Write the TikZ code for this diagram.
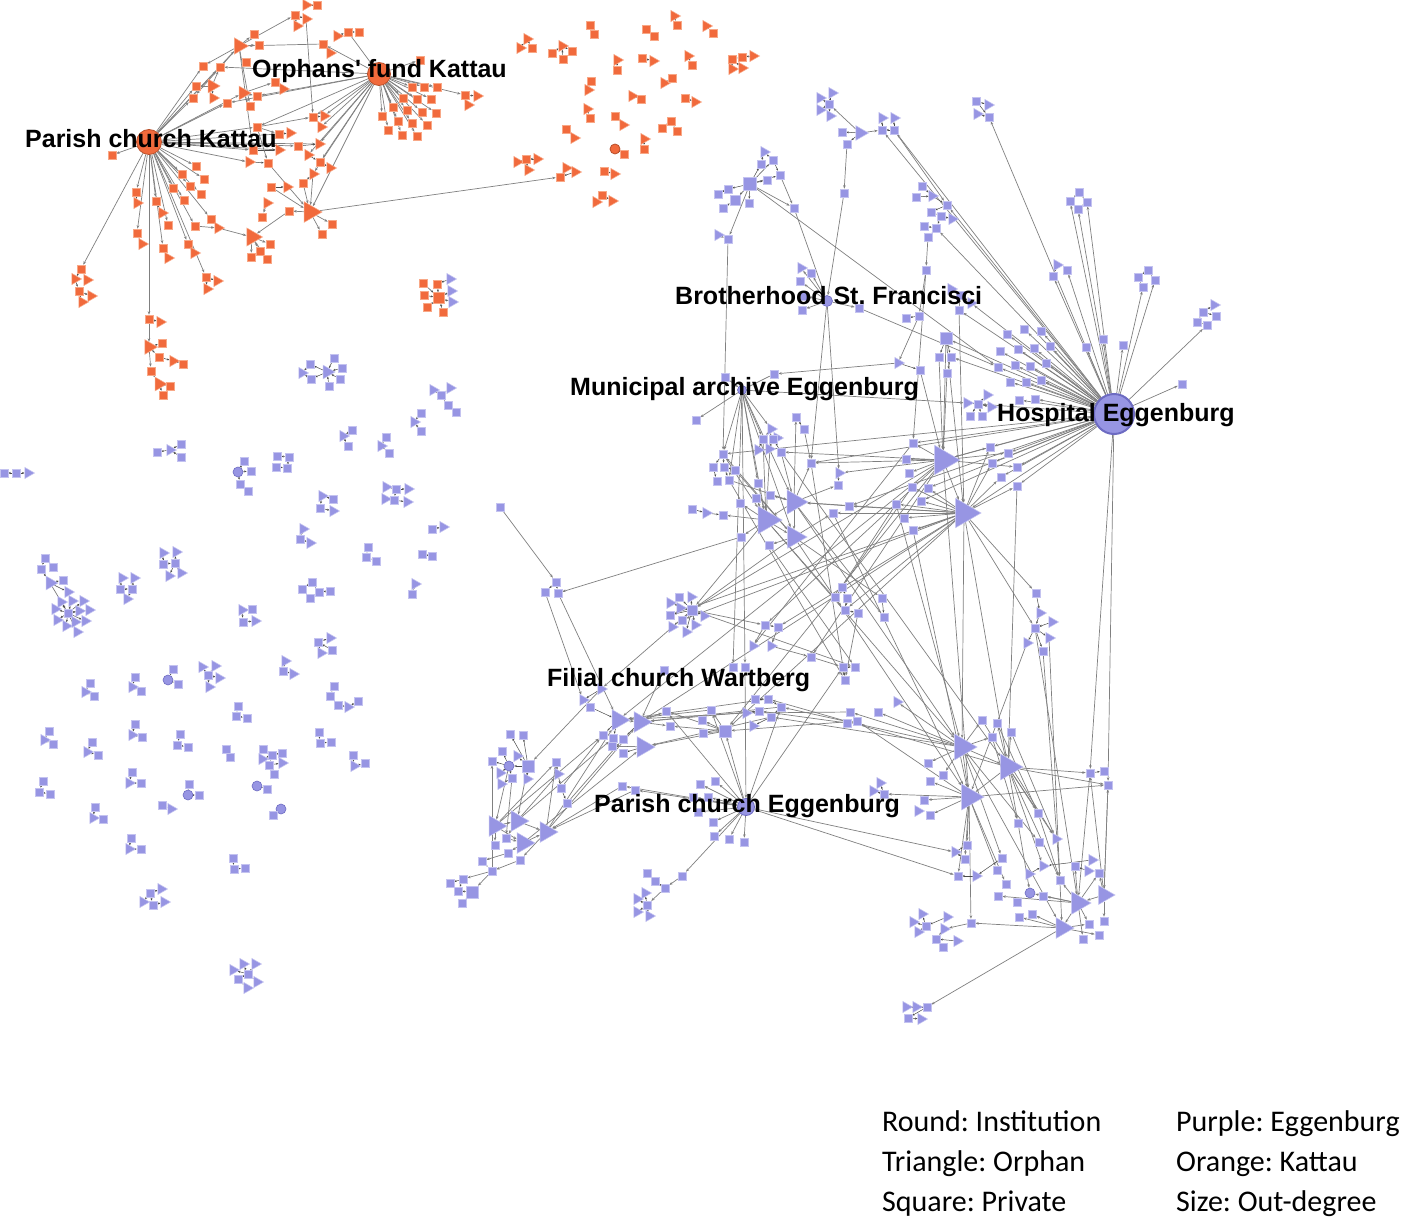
\documentclass[tikz,border=0pt]{standalone}
\usepackage{fontspec}
\setmainfont{Liberation Sans}
\newfontfamily\legendfont{Carlito}
\usetikzlibrary{shapes.geometric,arrows.meta}
\frenchspacing
\definecolor{pf}{HTML}{9795E3}
\definecolor{pl}{HTML}{C4C3F0}
\definecolor{pd}{HTML}{6D6BC2}
\definecolor{of}{HTML}{F16A3C}
\definecolor{ol}{HTML}{F8A887}
\definecolor{od}{HTML}{B8502B}
\definecolor{ec}{HTML}{808080}
\definecolor{esc}{HTML}{4A4A4A}
\pgfdeclarelayer{back}
\pgfdeclarelayer{bg}
\pgfsetlayers{back,bg,main}
\tikzset{
 ps/.style={rectangle,minimum size=8pt,inner sep=0pt,fill=pf,draw=pl,line width=0.5pt},
 pq/.style={ps,minimum size=12pt},
 pt/.style={regular polygon,regular polygon sides=3,shape border rotate=-90,minimum size=13pt,inner sep=0pt,fill=pf,draw=pl,line width=0.5pt},
 pc/.style={circle,minimum size=10pt,inner sep=0pt,fill=pf,draw=pd,line width=0.6pt},
 os/.style={ps,fill=of,draw=ol},
 ot/.style={pt,fill=of,draw=ol},
 oc/.style={circle,inner sep=0pt,fill=of,draw=od,line width=0.8pt},
 ed/.style={draw=ec,line width=0.7pt,-{Stealth[length=3.5pt,width=2.6pt]}},
 es/.style={draw=esc,line width=0.5pt,-{Stealth[length=2.5pt,width=2pt]}},
 lab/.style={font=\fontsize{25}{29}\selectfont\bfseries,inner sep=0pt,anchor=base west,text=black},
 leg/.style={font=\legendfont\fontsize{30}{36}\selectfont,inner sep=0pt,anchor=base west,text=black},
}
\newcommand\NOs[3]{\node[os] (#1) at (#2,#3) {};}
\newcommand\NOt[4][13]{\node[ot,minimum size=#1pt] (#2) at (#3,#4) {};}
\newcommand\NPs[3]{\node[ps] (#1) at (#2,#3) {};}
\newcommand\NPq[4][12]{\node[pq,minimum size=#1pt] (#2) at (#3,#4) {};}
\newcommand\NPt[4][13]{\node[pt,minimum size=#1pt] (#2) at (#3,#4) {};}
\newcommand\NPc[3]{\node[pc] (#1) at (#2,#3) {};}
\newcommand\Ed[2]{\draw[ed] (#1) -- (#2);}
\newcommand\Es[2]{\draw[es] (#1) -- (#2);}
\begin{document}
\begin{tikzpicture}[x=1pt,y=-1pt]
\useasboundingbox (0,0) rectangle (1401,1217);
\begin{pgfonlayer}{back}
\fill[white] (0,0) rectangle (1401,1217);
\end{pgfonlayer}
% ================= ORANGE (Kattau) =================
\node[oc,minimum size=25pt] (PCK) at (149,142) {};
\node[oc,minimum size=23pt] (OFK) at (379,74) {};
\NOt{o1}{306}{5} \NOs{o2}{317}{5}
\NOs{o3}{295}{15} \NOt{o4}{306}{19} \NOt{o5}{297}{26}
\NOs{o6}{254}{34} \NOt[19]{o7}{239}{46} \NOs{o8}{259}{45}
\NOt{o9}{337}{36} \NOs{o10}{348}{32} \NOs{o11}{359}{32}
\NOs{o12}{323}{44} \NOt{o13}{330}{53}
\NOs{o14}{203}{66} \NOs{o15}{220}{67} \NOs{o16}{246}{62}
\NOs{o17}{196}{86} \NOt[16]{o18}{212}{86} \NOs{o19}{193}{98} \NOt{o20}{213}{98}
\NOt[16]{o21}{243}{93} \NOs{o22}{257}{96} \NOs{o23}{227}{103} \NOs{o24}{250}{106}
\NOs{o25}{275}{82} \NOt{o26}{283}{89}
\NOs{o27}{420}{60} \NOs{o28}{412}{87} \NOs{o29}{424}{87} \NOs{o30}{437}{87}
\NOs{o31}{403}{98} \NOs{o32}{417}{99} \NOs{o33}{431}{99}
\NOs{o34}{393}{107} \NOs{o35}{407}{110} \NOs{o36}{422}{112} \NOs{o37}{436}{113}
\NOs{o38}{382}{116} \NOs{o39}{398}{121} \NOs{o40}{412}{123} \NOs{o41}{427}{125}
\NOs{o42}{388}{130} \NOs{o43}{402}{135} \NOs{o44}{417}{136}
\NOs{o45}{465}{95} \NOt{o46}{477}{96} \NOt{o47}{468}{105}
\NOs{o48}{313}{117} \NOt{o49}{324}{116} \NOs{o50}{257}{127} \NOt{o51}{321}{127}
\NOs{o52}{279}{134} \NOt{o53}{290}{133} \NOs{o54}{298}{146} \NOt{o55}{319}{144}
\NOs{o56}{253}{150} \NOt{o57}{279}{150} \NOt{o58}{308}{155} \NOs{o59}{320}{162}
\NOt{o60}{330}{168} \NOt{o61}{249}{162} \NOs{o62}{268}{163} \NOs{o63}{303}{183}
\NOt{o64}{313}{174} \NOs{o65}{271}{187} \NOt{o66}{287}{187} \NOt{o67}{267}{203}
\NOt[24]{o68}{310}{212} \NOs{o69}{289}{211} \NOs{o70}{332}{224} \NOs{o71}{322}{234}
\NOs{o72}{262}{217} \NOt[21]{o73}{252}{237} \NOs{o74}{270}{244} \NOs{o75}{260}{251}
\NOs{o76}{251}{257} \NOs{o77}{267}{259}
\NOs{o78}{112}{155} \NOs{o79}{196}{166} \NOs{o80}{204}{179} \NOs{o81}{182}{174}
\NOs{o82}{173}{188} \NOs{o83}{190}{186} \NOs{o84}{201}{194} \NOs{o85}{184}{200}
\NOs{o86}{136}{192} \NOt{o87}{137}{203} \NOs{o88}{156}{201} \NOt{o89}{162}{213}
\NOs{o90}{168}{225} \NOs{o91}{195}{226} \NOs{o92}{211}{219} \NOt{o93}{218}{228}
\NOs{o94}{137}{233} \NOt{o95}{142}{244} \NOs{o96}{163}{248} \NOt{o97}{168}{258}
\NOs{o98}{188}{244} \NOt{o99}{194}{253} \NOs{o100}{206}{277} \NOt{o101}{217}{281} \NOt{o102}{207}{289}
\NOs{o103}{81}{269} \NOt{o104}{75}{279} \NOt{o105}{87}{280} \NOs{o106}{79}{291} \NOt{o107}{91}{296} \NOt{o108}{82}{302}
\NOs{o109}{149}{319} \NOt{o110}{160}{322} \NOt[17]{o111}{149}{347} \NOs{o112}{162}{343}
\NOs{o113}{159}{357} \NOt{o114}{173}{361} \NOs{o115}{183}{364} \NOs{o116}{151}{371}
\NOt[16]{o117}{159}{384} \NOs{o118}{170}{386} \NOs{o119}{163}{395}
\NOs{o120}{423}{283} \NOs{o121}{437}{284} \NOs{o122}{424}{295} \node[os,minimum size=11pt] (o123) at (439,298) {};
\NOs{o124}{427}{307} \NOs{o125}{443}{312}
\NPt{q1}{450}{279} \NPt{q2}{451}{291} \NPt{q3}{452}{302}
% orange pairs
\NOt{a1}{527}{39} \NOt{a2}{520}{48} \NOs{a3}{532}{48}
\NOs{a4}{552}{53} \NOt{a5}{562}{46} \NOs{a6}{572}{51} \NOs{a7}{563}{59}
\NOs{a8}{590}{25} \NOs{a9}{594}{34}
\NOs{a10}{646}{29} \NOs{a11}{654}{36}
\NOt{a12}{674}{16} \NOs{a13}{677}{25}
\NOt{a14}{706}{26} \NOs{a15}{713}{33}
\NOt{a16}{617}{60} \NOs{a17}{617}{70}
\NOs{a18}{642}{58} \NOt{a19}{653}{61}
\NOt{a20}{688}{56} \NOs{a21}{692}{65}
\NOs{a22}{732}{59} \NOs{a23}{742}{57} \NOt{a24}{753}{56} \NOt{a25}{732}{69} \NOt{a26}{742}{68}
\NOs{a27}{591}{81} \NOt{a28}{588}{90}
\NOt{a29}{664}{83} \NOs{a30}{672}{78}
\NOt{a31}{632}{96} \NOs{a32}{641}{99}
\NOs{a33}{685}{98} \NOt{a34}{695}{102}
\NOt{a35}{587}{109} \NOs{a36}{590}{118}
\NOs{a37}{615}{116} \NOt{a38}{623}{125}
\NOs{a39}{662}{128} \NOs{a40}{671}{121} \NOs{a41}{677}{131}
\NOs{a42}{566}{129} \NOt{a43}{574}{138}
\NOt{a44}{644}{139} \NOs{a45}{644}{149}
\node[oc,minimum size=10pt] (a46) at (615,149) {}; \NOs{a47}{624}{154}
\NOt{a48}{517}{162} \NOs{a49}{526}{159} \NOt{a50}{537}{159} \NOt{a51}{528}{170}
\NOs{a52}{560}{177} \NOt{a53}{566}{168} \NOt{a54}{575}{172}
\NOs{a55}{604}{171} \NOt{a56}{614}{174}
\NOt{a57}{596}{202} \NOs{a58}{602}{195} \NOt{a59}{612}{201}
% ================= PURPLE scattered groups =================
\NPt{l1}{302}{373} \NPs{l2}{310}{364} \NPs{l3}{311}{379} \NPt[16]{l4}{327}{372} \NPs{l5}{334}{358} \NPs{l6}{342}{368} \NPs{l7}{340}{379} \NPs{l8}{329}{386}
\NPt{l9}{433}{390} \NPt{l10}{450}{388} \NPs{l11}{441}{395} \NPs{l12}{448}{405} \NPs{l13}{456}{412}
\NPs{l14}{421}{413} \NPt{l15}{414}{422} \NPs{l16}{421}{431}
\NPt{l17}{343}{436} \NPs{l18}{352}{430} \NPs{l19}{348}{446}
\NPs{l20}{386}{437} \NPt{l21}{381}{446} \NPs{l22}{389}{453}
\NPs{l23}{157}{452} \NPt{l24}{170}{450} \NPs{l25}{181}{444} \NPs{l26}{181}{457}
\NPs{l27}{4}{473} \NPs{l28}{16}{473} \NPt{l29}{28}{473}
\NPs{l30}{244}{461} \NPc{l31}{238}{472} \NPs{l32}{251}{471} \NPs{l33}{240}{484} \NPs{l34}{248}{491}
\NPs{l35}{277}{456} \NPs{l36}{289}{457} \NPs{l37}{276}{467} \NPs{l38}{287}{468}
\NPt{l39}{322}{496} \NPs{l40}{333}{499} \NPs{l41}{320}{508} \NPt{l42}{333}{511}
\NPt{l43}{386}{487} \NPs{l44}{396}{489} \NPt{l45}{408}{489} \NPt{l46}{385}{499} \NPs{l47}{394}{500} \NPt{l48}{407}{502}
\NPt{l49}{303}{529} \NPs{l50}{300}{539} \NPt{l51}{310}{543}
\NPs{l52}{432}{529} \NPt{l53}{443}{527}
\NPs{l54}{368}{547} \NPs{l55}{366}{557} \NPs{l56}{376}{561}
\NPs{l57}{422}{554} \NPs{l58}{432}{556}
\NPt{l59}{415}{584} \NPs{l60}{412}{594}
\NPs{l61}{312}{582} \NPs{l62}{302}{589} \NPs{l63}{319}{592} \NPs{l64}{330}{591} \NPs{l65}{310}{598}
\NPt{l66}{242}{610} \NPs{l67}{252}{609} \NPs{l68}{243}{622} \NPt{l69}{255}{621}
\NPs{l70}{318}{642} \NPt{l71}{330}{638} \NPs{l72}{332}{650} \NPt{l73}{321}{653}
\NPs{l74}{45}{558} \NPs{l75}{41}{569} \NPs{l76}{53}{567} \NPt[16]{l77}{50}{583} \NPs{l78}{63}{580}
\NPt{l79}{68}{592} \NPt{l80}{61}{602} \NPt{l81}{72}{601} \NPt{l82}{83}{601} \NPt{l83}{55}{609}
\NPs{l84}{68}{613} \NPt{l85}{79}{611} \NPt{l86}{89}{610} \NPt{l87}{57}{620} \NPt{l88}{66}{626}
\NPt{l89}{75}{622} \NPt{l90}{85}{621} \NPt{l91}{77}{632}
\NPt{l92}{122}{578} \NPt{l93}{134}{578} \NPs{l94}{120}{589} \NPs{l95}{132}{589} \NPt{l96}{127}{599}
\NPt{l97}{163}{553} \NPt{l98}{176}{552} \NPs{l99}{163}{564} \NPs{l100}{175}{563} \NPt{l101}{169}{576} \NPt{l102}{181}{573}
\NPs{m1}{90}{683} \NPt{m2}{85}{692} \NPs{m3}{94}{696}
\NPs{m4}{135}{677} \NPt{m5}{132}{687} \NPs{m6}{141}{691}
\NPs{m7}{173}{669} \NPc{m8}{168}{680} \NPs{m9}{178}{684}
\NPt{m10}{202}{667} \NPt{m11}{215}{666} \NPs{m12}{208}{675} \NPt{m13}{219}{678} \NPt{m14}{209}{687}
\NPt{m15}{285}{661} \NPs{m16}{283}{671} \NPt{m17}{293}{674}
\NPs{m18}{334}{686} \NPs{m19}{330}{696} \NPs{m20}{338}{705} \NPt{m21}{348}{707} \NPs{m22}{358}{701}
\NPs{m23}{238}{706} \NPs{m24}{236}{716} \NPs{m25}{247}{718}
\NPs{m26}{49}{731} \NPt{m27}{44}{740} \NPs{m28}{53}{744}
\NPs{m29}{92}{742} \NPt{m30}{87}{752} \NPs{m31}{98}{755}
\NPs{m32}{135}{724} \NPt{m33}{132}{735} \NPs{m34}{142}{737}
\NPs{m35}{180}{734} \NPs{m36}{177}{745} \NPs{m37}{188}{747}
\NPs{m38}{226}{749} \NPs{m39}{230}{757}
\NPs{m40}{263}{749} \NPs{m41}{272}{755} \NPs{m42}{282}{753} \NPt{m43}{262}{759} \NPs{m44}{269}{765} \NPt{m45}{282}{763} \NPs{m46}{274}{774}
\NPs{m47}{319}{732} \NPs{m48}{320}{743} \NPs{m49}{331}{742}
\NPs{m50}{353}{755} \NPt{m51}{354}{766} \NPs{m52}{365}{763}
\NPs{m53}{43}{781} \NPs{m54}{39}{792} \NPs{m55}{50}{794}
\NPs{m56}{132}{772} \NPt{m57}{129}{783} \NPs{m58}{141}{783}
\NPs{m59}{189}{784} \NPc{m60}{188}{795} \NPs{m61}{199}{795}
\NPs{m62}{162}{805} \NPt{m63}{171}{809}
\NPc{m64}{257}{786} \NPs{m65}{267}{789}
\NPc{m66}{281}{809} \NPs{m67}{273}{815}
\NPs{m68}{95}{807} \NPt{m69}{93}{818} \NPs{m70}{103}{819}
\NPs{m71}{131}{838} \NPt{m72}{129}{849} \NPs{m73}{141}{849}
\NPs{m74}{233}{858} \NPs{m75}{234}{869} \NPs{m76}{245}{868}
\NPt{m77}{161}{889} \NPs{m78}{150}{893} \NPt{m79}{143}{902} \NPs{m80}{153}{905} \NPt{m81}{164}{902}
\NPt{m82}{233}{970} \NPt{m83}{243}{964} \NPt{m84}{255}{964} \NPs{m85}{248}{974} \NPs{m86}{238}{979} \NPt{m87}{257}{982} \NPt{m88}{247}{988}
% ================= PURPLE main component =================
\node[pc,minimum size=40pt,line width=2pt] (H) at (1114,414) {};
\node[pc,minimum size=11pt] (B) at (827,301) {};
\node[pc,minimum size=17pt,line width=0.8pt] (PCE) at (746,807) {};
\node[pc,minimum size=9pt] (M) at (742,390) {};
\NPt{p1}{820}{98} \NPt{p2}{832}{93} \NPs{p3}{829}{104} \NPt{p4}{820}{110} \NPt{p5}{830}{116}
\NPs{p6}{842}{132} \NPt[17]{p7}{860}{133} \NPs{p8}{847}{144}
\NPt{p9}{882}{118} \NPt{p10}{894}{118} \NPs{p11}{882}{130} \NPs{p12}{894}{130}
\NPs{p13}{976}{101} \NPt{p14}{988}{105} \NPt{p15}{977}{114} \NPs{p16}{989}{117}
\NPt{p17}{764}{152} \NPs{p18}{761}{164} \NPs{p19}{773}{160} \NPq[13]{p20}{750}{184} \NPs{p21}{780}{175}
\NPs{p22}{767}{180} \NPs{p23}{728}{189} \NPs{p24}{718}{194} \NPq[10]{p25}{735}{200} \NPs{p26}{723}{208}
\NPs{p27}{749}{203} \NPt{p28}{718}{235} \NPs{p29}{728}{239}
\NPs{p30}{794}{208} \NPs{p31}{844}{193}
\NPs{p32}{922}{186} \NPs{p33}{916}{197} \NPt{p34}{932}{196} \NPs{p35}{947}{205} \NPs{p36}{931}{212}
\NPs{p37}{941}{216} \NPt{p38}{952}{219} \NPs{p39}{924}{226} \NPs{p40}{936}{228} \NPs{p41}{928}{237}
\NPs{p42}{926}{270}
\NPt{p43}{801}{268} \NPs{p44}{811}{273} \NPs{p45}{800}{281} \NPs{p46}{804}{296} \NPs{p47}{802}{310}
\NPs{p48}{859}{308}
\NPt{p49}{951}{289} \NPs{p50}{960}{295} \NPs{p51}{959}{310} \NPt{p52}{971}{303}
\NPs{p53}{919}{316} \NPs{p54}{906}{318}
\NPq{p55}{946}{338} \NPs{p56}{939}{357} \NPs{p57}{951}{357} \NPs{p58}{947}{373}
\NPt{p59}{898}{363} \NPs{p60}{920}{370}
\NPs{p61}{774}{374} \NPs{p62}{725}{377}
\NPs{p63}{1007}{334} \NPs{p64}{1024}{329} \NPs{p65}{1041}{331} \NPs{p66}{1000}{351}
\NPs{p67}{1018}{349} \NPs{p68}{1034}{348} \NPs{p69}{1050}{346} \NPs{p70}{998}{367}
\NPs{p71}{1015}{365} \NPs{p72}{1030}{366} \NPs{p73}{1046}{363} \NPs{p74}{1010}{382}
\NPs{p75}{1026}{382} \NPs{p76}{1041}{380} \NPs{p77}{1019}{400} \NPs{p78}{1035}{399}
\NPt{p79}{967}{403} \NPs{p80}{978}{404} \NPt{p81}{987}{395} \NPt{p82}{991}{407} \NPs{p83}{970}{416} \NPs{p84}{982}{416}
\NPt{p85}{1057}{265} \NPs{p86}{1053}{276} \NPs{p87}{1067}{270}
\NPs{p88}{1079}{192} \NPs{p89}{1070}{201} \NPs{p90}{1087}{202} \NPs{p91}{1078}{209}
\NPs{p92}{1148}{270} \NPs{p93}{1138}{277} \NPs{p94}{1155}{280} \NPs{p95}{1143}{287}
\NPt{p96}{1214}{305} \NPs{p97}{1203}{312} \NPs{p98}{1216}{316} \NPs{p99}{1197}{322} \NPs{p100}{1207}{325}
\NPs{p101}{1103}{339} \NPs{p102}{1086}{347} \NPs{p103}{1123}{345}
\NPs{p104}{1182}{384}
\NPs{p105}{696}{420} \NPs{p106}{796}{417} \NPs{p107}{804}{429}
\NPs{p108}{723}{454} \NPs{p109}{713}{467} \NPs{p110}{724}{467} \NPs{p111}{735}{470} \NPs{p112}{717}{481} \NPs{p113}{729}{480}
\NPt{p114}{771}{429} \NPt{p115}{777}{438} \NPs{p116}{763}{439} \NPs{p117}{773}{439} \NPt{p118}{758}{450} \NPt{p119}{769}{449} \NPs{p120}{781}{452}
\NPs{p121}{811}{463} \NPt{p122}{839}{473} \NPs{p123}{838}{485} \NPs{p124}{758}{483}
\NPt[28]{p125}{794}{502}
\NPs{p126}{770}{495} \NPs{p127}{756}{498} \NPs{p128}{740}{503}
\NPt[32]{p129}{766}{520}
\NPt[26]{p130}{794}{537}
\NPs{p131}{769}{545} \NPs{p132}{741}{537}
\NPs{p133}{692}{509} \NPt{p134}{706}{513} \NPs{p135}{723}{515}
\NPs{p136}{833}{513} \NPs{p137}{849}{506}
\NPs{p138}{913}{443} \NPs{p139}{906}{459} \NPs{p140}{909}{473} \NPs{p141}{912}{487} \NPs{p142}{928}{488}
\NPs{p143}{896}{504} \NPs{p144}{921}{501} \NPs{p145}{904}{518} \NPs{p146}{913}{530}
\NPt[34]{p147}{943}{460}
\NPt[34]{p148}{964}{513}
\NPs{p149}{990}{447} \NPs{p150}{1008}{453} \NPs{p151}{992}{463} \NPs{p152}{1017}{467} \NPs{p153}{1001}{477} \NPs{p154}{1017}{486}
\NPs{p155}{556}{582} \NPs{p156}{545}{592} \NPs{p157}{558}{593}
\NPs{p158}{500}{507}
\NPt{p159}{670}{603} \NPs{p160}{679}{597} \NPt{p161}{691}{597} \NPs{p162}{670}{615} \NPq[10]{p163}{692}{610}
\NPt{p164}{680}{608} \NPs{p165}{682}{620} \NPt{p166}{704}{616} \NPt{p167}{672}{627} \NPt{p168}{686}{632} \NPt{p169}{695}{625}
\NPs{p170}{765}{625} \NPs{p171}{778}{627} \NPt{p172}{753}{646} \NPt{p173}{771}{646} \NPs{p174}{811}{657}
\NPs{p175}{664}{670} \NPs{p176}{733}{667} \NPs{p177}{745}{667}
\NPs{p178}{842}{587} \NPs{p179}{835}{597} \NPs{p180}{847}{598} \NPs{p181}{845}{610} \NPs{p182}{858}{613}
\NPs{p183}{882}{598} \NPs{p184}{884}{617}
\NPs{p185}{843}{667} \NPs{p186}{855}{667} \NPs{p187}{845}{680}
\NPs{p188}{1036}{593} \NPt{p189}{1040}{613} \NPt{p190}{1052}{622} \NPs{p191}{1035}{628} \NPt{p192}{1049}{638} \NPt{p193}{1027}{643} \NPs{p194}{1043}{651}
\NPt{p196}{601}{689} \NPt{p197}{583}{700} \NPs{p198}{590}{707}
\NPt[24]{p199}{618}{720} \NPt[24]{p200}{640}{722} \NPs{p201}{666}{711} \NPs{p202}{670}{726}
\NPs{p203}{603}{735} \NPs{p204}{613}{738} \NPs{p205}{623}{739} \NPs{p206}{612}{746} \NPs{p207}{623}{753} \NPt[24]{p208}{643}{747}
\NPs{p209}{711}{710} \NPs{p210}{702}{720} \NPs{p211}{703}{733} \NPq{p212}{725}{731}
\NPt{p213}{746}{713} \NPs{p214}{759}{711} \NPs{p215}{755}{699} \NPs{p216}{768}{699} \NPs{p217}{781}{707} \NPs{p218}{771}{717} \NPt{p219}{753}{726}
\NPs{p221}{850}{712} \NPs{p222}{847}{723} \NPs{p223}{857}{721}
\NPs{p224}{510}{734} \NPs{p225}{523}{735} \NPs{p226}{502}{751} \NPt{p227}{517}{756} \NPs{p228}{492}{761}
\NPc{p229}{509}{766} \NPq{p230}{528}{766} \NPt{p231}{500}{773} \NPs{p232}{512}{778} \NPt{p233}{527}{779} \NPt{p234}{501}{784}
\NPs{p235}{556}{762} \NPt{p236}{558}{774} \NPs{p237}{561}{788} \NPs{p238}{567}{803}
\NPs{p239}{622}{786} \NPs{p240}{635}{790}
\NPt[24]{p241}{495}{826} \NPt[24]{p242}{517}{821} \NPt[24]{p243}{546}{832} \NPs{p244}{506}{838} \NPt[24]{p245}{523}{843}
\NPs{p246}{495}{845} \NPs{p247}{508}{853} \NPs{p248}{520}{860} \NPs{p249}{482}{861} \NPs{p250}{492}{871}
\NPs{p251}{463}{879} \NPs{p252}{450}{883} \NPs{p253}{458}{891} \NPq{p254}{472}{892} \NPs{p255}{462}{903}
\NPs{p256}{700}{784} \NPs{p257}{715}{781} \NPs{p258}{693}{797} \NPs{p259}{708}{797} \NPs{p260}{698}{812}
\NPs{p261}{713}{822} \NPs{p262}{714}{836} \NPs{p263}{729}{839} \NPs{p264}{744}{842}
\NPs{p265}{682}{876} \NPs{p266}{665}{888} \NPs{p267}{647}{873} \NPs{p268}{655}{881} \NPt{p269}{645}{893}
\NPt{p270}{637}{899} \NPs{p271}{647}{905} \NPt{p272}{637}{912} \NPt{p273}{649}{916}
\NPt{p274}{897}{702} \NPs{p275}{878}{712}
\NPt[30]{p276}{962}{747} \NPt[30]{p277}{1008}{767} \NPt[30]{p278}{969}{797}
\NPs{p279}{982}{720} \NPs{p280}{997}{723} \NPs{p281}{992}{737} \NPs{p282}{1011}{732}
\NPs{p283}{928}{763} \NPs{p284}{943}{775} \NPs{p285}{930}{781} \NPs{p286}{924}{800} \NPt{p287}{918}{811} \NPs{p288}{930}{815}
\NPt{p289}{880}{783} \NPt{p290}{873}{791} \NPs{p291}{884}{794}
\NPs{p292}{1090}{773} \NPs{p293}{1104}{771} \NPs{p294}{1108}{785}
\NPs{p295}{1038}{813} \NPs{p296}{1018}{823} \NPs{p297}{1039}{842} \NPt{p298}{1056}{839}
\NPs{p299}{967}{845} \NPt{p300}{955}{852} \NPs{p301}{965}{859}
\NPs{p302}{1002}{858} \NPs{p303}{997}{870} \NPs{p304}{958}{876} \NPt{p305}{976}{876}
\NPt{p306}{1043}{866} \NPt{p307}{1029}{874} \NPs{p308}{1075}{866} \NPt{p309}{1092}{860} \NPt{p310}{1088}{871} \NPs{p311}{1099}{873}
\NPs{p312}{1060}{880} \NPs{p313}{1006}{884} \NPs{p314}{998}{896} \NPc{p315}{1030}{893} \NPs{p316}{1043}{896} \NPs{p317}{1017}{902}
\NPt[26]{p318}{1078}{903} \NPt[22]{p319}{1104}{895}
\NPs{p320}{1032}{914} \NPs{p321}{1019}{917}
\NPt[24]{p322}{1062}{928} \NPs{p323}{1089}{924} \NPs{p324}{1104}{921} \NPs{p325}{1083}{939} \NPs{p326}{1099}{935}
\NPs{p327}{971}{923}
\NPt{p328}{922}{914} \NPt{p329}{913}{922} \NPt{p330}{918}{932} \NPs{p331}{926}{926} \NPt{p332}{947}{917}
\NPt{p333}{944}{929} \NPt{p334}{957}{941} \NPs{p335}{936}{939} \NPs{p336}{943}{947}
\NPt{p337}{906}{1007} \NPt{p338}{916}{1007} \NPs{p339}{927}{1007} \NPs{p340}{908}{1018} \NPt{p341}{921}{1019}
% ================= EDGES =================
\begin{pgfonlayer}{bg}
% orange
\foreach \t in {o78,o79,o80,o81,o82,o83,o84,o85,o86,o88,o90,o91,o92,o94,o96,o98,o100,o103,o109,o19,o14,o15,o7,o23,o21,o50,o54,o55,o57,o17,o56,o61,o52} {\Ed{PCK}{\t}}
\foreach \t in {o27,o28,o29,o30,o31,o32,o33,o34,o35,o36,o37,o38,o39,o40,o41,o42,o43,o44,o45,o15,o23,o50,o48,o49,o51,o58,o59,o64,o12,o22,o55,o68} {\Ed{OFK}{\t}}
\Ed{o10}{OFK}
\Es{o2}{o1} \Es{o3}{o4} \Es{o3}{o5} \Ed{o4}{o48} \Ed{o7}{o3}
\Ed{o7}{o6} \Ed{o7}{o8} \Ed{o7}{o14} \Ed{o7}{o19} \Ed{o7}{o56} \Ed{o7}{o24} \Ed{o12}{o7}
\Es{o9}{o10} \Es{o10}{o11} \Es{o12}{o13}
\Ed{o18}{o17} \Ed{o18}{o15} \Es{o18}{o20} \Ed{o21}{o22} \Ed{o21}{o24} \Ed{o21}{o25} \Es{o25}{o26}
\Es{o45}{o46} \Es{o45}{o47}
\Es{o48}{o49} \Ed{o50}{o52} \Es{o52}{o53} \Es{o54}{o55} \Es{o56}{o57} \Es{o61}{o62} \Es{o58}{o59} \Es{o59}{o60} \Es{o63}{o64} \Es{o65}{o66} \Ed{o67}{o72} \Ed{o50}{o62} \Ed{o50}{o48}
\Ed{o68}{a52} \Ed{o68}{o69} \Ed{o68}{o70} \Ed{o68}{o71} \Ed{o62}{o68} \Ed{o65}{o68} \Ed{o63}{o68} \Ed{o64}{o68}
\Ed{o69}{o73} \Ed{o73}{o74} \Ed{o73}{o75} \Ed{o73}{o76} \Ed{o73}{o77} \Ed{o93}{o73} \Ed{o91}{o93}
\Es{o92}{o93} \Es{o86}{o87} \Es{o88}{o89} \Es{o94}{o95} \Es{o96}{o97} \Es{o98}{o99} \Es{o100}{o101} \Es{o100}{o102}
\Es{o103}{o104} \Es{o103}{o105} \Es{o104}{o106} \Es{o106}{o107} \Es{o106}{o108}
\Es{o109}{o110} \Ed{o109}{o111} \Es{o111}{o112} \Es{o111}{o113} \Es{o113}{o114} \Es{o114}{o115} \Ed{o111}{o116} \Es{o116}{o117} \Es{o117}{o118} \Es{o117}{o119}
\Es{o120}{o123} \Es{o121}{o123} \Es{o122}{o123} \Es{o124}{o123} \Es{o125}{o123} \Es{q1}{o121} \Es{q2}{o123} \Es{q3}{o123}
\Es{a1}{a3} \Es{a2}{a1} \Es{a4}{a5} \Es{a5}{a6} \Es{a7}{a5} \Es{a8}{a9} \Es{a10}{a11} \Es{a12}{a13} \Es{a14}{a15}
\Es{a16}{a17} \Es{a18}{a19} \Es{a20}{a21} \Es{a22}{a23} \Es{a24}{a23} \Es{a25}{a22} \Es{a26}{a22} \Es{a27}{a28}
\Es{a29}{a30} \Es{a31}{a32} \Es{a33}{a34} \Es{a35}{a36} \Es{a37}{a38} \Es{a40}{a39} \Es{a40}{a41} \Es{a42}{a43}
\Es{a44}{a45} \Es{a46}{a47} \Es{a48}{a49} \Es{a50}{a49} \Es{a51}{a49} \Es{a53}{a52} \Es{a54}{a52} \Es{a55}{a56} \Es{a58}{a57} \Es{a58}{a59}
% purple small groups
\Es{l2}{l1} \Es{l3}{l1} \Es{l4}{l2} \Es{l4}{l3} \Es{l5}{l4} \Es{l6}{l4} \Es{l7}{l4} \Es{l8}{l4}
\Es{l11}{l9} \Es{l11}{l10} \Es{l11}{l12} \Es{l12}{l13}
\Es{l14}{l15} \Es{l16}{l15} \Es{l18}{l17} \Es{l17}{l19} \Es{l20}{l21} \Es{l21}{l22}
\Es{l24}{l23} \Es{l25}{l24} \Es{l26}{l24} \Es{l28}{l27} \Es{l28}{l29}
\Es{l31}{l30} \Es{l31}{l32} \Es{l31}{l33} \Es{l33}{l34}
\Es{l36}{l35} \Es{l37}{l38} \Es{l38}{l36}
\Es{l40}{l39} \Es{l39}{l41} \Es{l41}{l42}
\Es{l44}{l43} \Es{l44}{l45} \Es{l47}{l46} \Es{l47}{l48} \Es{l44}{l47}
\Es{l49}{l50} \Es{l50}{l51} \Es{l52}{l53} \Es{l54}{l55} \Es{l55}{l56} \Es{l58}{l57} \Es{l59}{l60}
\Es{l61}{l62} \Es{l61}{l63} \Es{l62}{l65} \Es{l64}{l63}
\Es{l67}{l66} \Es{l66}{l68} \Es{l68}{l69}
\Es{l70}{l71} \Es{l70}{l73} \Es{l72}{l70}
\Es{l74}{l75} \Es{l76}{l74} \Es{l75}{l77} \Es{l77}{l78} \Es{l77}{l79} \Ed{l77}{l84}
\foreach \t in {l80,l81,l82,l83,l85,l86,l87,l88,l89,l90,l91} {\Es{l84}{\t}}
\Es{l94}{l92} \Es{l95}{l93} \Es{l94}{l95} \Es{l95}{l96}
\Es{l99}{l97} \Es{l100}{l98} \Es{l99}{l100} \Es{l100}{l101} \Es{l100}{l102}
\Es{m1}{m2} \Es{m2}{m3} \Es{m4}{m5} \Es{m5}{m6} \Es{m7}{m8} \Es{m8}{m9}
\Es{m12}{m10} \Es{m12}{m11} \Es{m12}{m13} \Es{m12}{m14} \Es{m15}{m16} \Es{m16}{m17}
\Es{m18}{m19} \Es{m19}{m20} \Es{m20}{m21} \Es{m22}{m21} \Es{m23}{m24} \Es{m24}{m25}
\Es{m26}{m27} \Es{m27}{m28} \Es{m29}{m30} \Es{m30}{m31} \Es{m32}{m33} \Es{m33}{m34}
\Es{m35}{m36} \Es{m36}{m37} \Es{m38}{m39}
\Es{m40}{m41} \Es{m41}{m43} \Es{m42}{m41} \Es{m41}{m44} \Es{m44}{m45} \Es{m44}{m46}
\Es{m47}{m48} \Es{m48}{m49} \Es{m50}{m51} \Es{m51}{m52} \Es{m53}{m54} \Es{m54}{m55}
\Es{m56}{m57} \Es{m57}{m58} \Es{m59}{m60} \Es{m60}{m61} \Es{m62}{m63} \Es{m64}{m65} \Es{m66}{m67}
\Es{m68}{m69} \Es{m69}{m70} \Es{m71}{m72} \Es{m72}{m73} \Es{m74}{m75} \Es{m75}{m76}
\Es{m78}{m77} \Es{m78}{m79} \Es{m78}{m80} \Es{m80}{m81}
\Es{m85}{m82} \Es{m85}{m83} \Es{m85}{m84} \Es{m85}{m86} \Es{m85}{m87} \Es{m86}{m88}
% main component: hospital
\foreach \t in {p63,p64,p65,p66,p67,p68,p69,p70,p71,p72,p73,p74,p75,p76,p77,p78,p80,p86,p87,p89,p90,p91,p94,p95,p100,p101,p102,p103,p104,p16,p11,p12,p35,p40,p55,p57,p147,p148,p149,p150,p151,p152,p153,p154,p138,p137,p121,p108,p142,p144,p292,p294,p52,p51} {\Ed{H}{\t}}
\Es{p3}{p1} \Es{p3}{p2} \Es{p3}{p4} \Es{p3}{p5} \Ed{p7}{p3} \Es{p7}{p6} \Es{p7}{p8} \Ed{p7}{p11}
\Es{p11}{p9} \Es{p12}{p10} \Es{p12}{p11} \Es{p13}{p14} \Es{p16}{p15} \Es{p13}{p16}
\Ed{p8}{p31} \Ed{p31}{B} \Ed{p12}{p35}
\Es{p18}{p17} \Es{p19}{p17} \Es{p20}{p18} \Es{p20}{p19} \Es{p20}{p21} \Es{p20}{p22} \Es{p20}{p23} \Es{p20}{p25} \Es{p20}{p27} \Ed{p20}{p29}
\Es{p23}{p24} \Es{p26}{p25} \Es{p28}{p29} \Es{p19}{p21} \Ed{p20}{p30} \Ed{p21}{p30} \Ed{p30}{B} \Ed{p20}{p70} \Ed{p29}{p108}
\Es{p32}{p34} \Es{p33}{p34} \Es{p34}{p35} \Es{p35}{p36} \Es{p36}{p37} \Es{p37}{p38} \Es{p39}{p40} \Es{p40}{p41} \Es{p37}{p40}
\Ed{p41}{p42} \Ed{p42}{p53} \Ed{p42}{p138}
\foreach \t in {p43,p44,p45,p46,p47,p48,p121,p122} {\Ed{B}{\t}}
\Ed{p48}{p70}
\Es{p50}{p49} \Es{p50}{p52} \Es{p51}{p50} \Es{p53}{p54} \Es{p55}{p56} \Es{p55}{p57} \Es{p57}{p58} \Ed{p53}{p59} \Es{p59}{p60} \Ed{p59}{p61} \Ed{p61}{M} \Ed{p62}{M}
\Ed{p55}{p147} \Ed{p55}{p148} \Ed{p56}{p147} \Ed{p58}{p147} \Ed{p51}{p148} \Ed{p60}{p147}
\Es{p80}{p79} \Es{p80}{p81} \Es{p80}{p82} \Es{p80}{p83} \Es{p80}{p84}
\Es{p85}{p86} \Es{p88}{p89} \Es{p88}{p90} \Es{p89}{p91} \Es{p90}{p91}
\Es{p92}{p93} \Es{p92}{p94} \Es{p93}{p95} \Es{p97}{p96} \Es{p97}{p98} \Es{p97}{p99} \Es{p99}{p100}
\foreach \t in {p108,p113,p129,p125,p130,p124,p114,p116,p177,p176,p79,p105} {\Ed{M}{\t}}
\Es{p106}{p107} \Ed{p107}{p121} \Ed{p125}{p106}
\Es{p114}{p116} \Es{p115}{p117} \Es{p118}{p116} \Es{p119}{p117} \Es{p120}{p117}
\Es{p108}{p109} \Es{p108}{p110} \Es{p110}{p111} \Es{p109}{p112} \Es{p110}{p113}
\Ed{p125}{p126} \Ed{p129}{p127} \Ed{p129}{p128} \Ed{p130}{p131} \Ed{p129}{p132} \Es{p133}{p134} \Es{p134}{p135} \Ed{p129}{p135}
\Ed{p125}{p121} \Ed{p125}{p123} \Es{p122}{p123} \Ed{p130}{p136} \Ed{p137}{p125} \Ed{p125}{p129} \Ed{p129}{p130} \Ed{p125}{p130}
\Ed{p108}{p129} \Ed{p113}{p125} \Ed{p116}{p129} \Ed{p124}{p129} \Ed{p120}{p125} \Ed{p111}{p130} \Ed{p129}{p114} \Ed{p130}{p108}
\foreach \t in {p138,p139,p140,p148,p149,p150,p152,p121,p122,p120} {\Ed{p147}{\t}}
\foreach \t in {p141,p142,p143,p144,p145,p146,p149,p151,p153,p154,p136,p125,p137} {\Ed{p148}{\t}}
\Ed{p147}{p163} \Ed{p148}{p165} \Ed{p148}{p162} \Ed{p147}{p212} \Ed{p148}{p212} \Ed{p147}{p199} \Ed{p148}{p200}
\Ed{p147}{p174} \Ed{p148}{p181} \Ed{p148}{p188} \Ed{p148}{p191} \Ed{p148}{p276} \Ed{p148}{p277} \Ed{p147}{p278}
\Ed{p154}{p277} \Ed{p146}{p278} \Ed{p143}{p276} \Ed{p125}{p276} \Ed{p129}{p276} \Ed{p130}{p278} \Ed{p120}{p277} \Ed{p136}{p278}
\Ed{p129}{p181} \Ed{p125}{p184} \Ed{p130}{p183} \Ed{p131}{p186} \Ed{p147}{p170} \Ed{p148}{p171} \Ed{p143}{p179} \Ed{p141}{p178}
\Ed{p138}{p172} \Ed{p129}{p163} \Ed{p130}{p163} \Ed{p132}{p157} \Ed{p158}{p155} \Ed{p113}{p187} \Ed{p121}{p187}
\foreach \t in {p159,p160,p161,p162,p164,p165,p166,p167,p168,p169} {\Es{p163}{\t}}
\Ed{p163}{p196} \Ed{p196}{p230} \Ed{p163}{p170} \Ed{p163}{p186} \Es{p170}{p171} \Ed{p170}{p172} \Ed{p171}{p173} \Ed{p173}{p174} \Ed{p174}{p185}
\Es{p178}{p179} \Es{p178}{p180} \Es{p180}{p181} \Es{p181}{p182} \Es{p183}{p184} \Es{p185}{p186} \Es{p185}{p187} \Ed{p182}{p187}
\Es{p188}{p189} \Es{p189}{p191} \Es{p190}{p191} \Es{p191}{p192} \Es{p191}{p193} \Es{p191}{p194} \Ed{p194}{p312} \Ed{p191}{p318} \Ed{p193}{p278} \Ed{p192}{p322}
\Es{p155}{p156} \Es{p155}{p157} \Ed{p157}{p199} \Ed{p156}{p197} \Ed{p175}{p200}
\Es{p196}{p197} \Es{p197}{p198}
\Es{p199}{p203} \Es{p199}{p204} \Es{p200}{p205} \Ed{p200}{p201} \Es{p208}{p206} \Es{p208}{p207} \Ed{p199}{p200} \Ed{p200}{p202} \Es{p198}{p199}
\Ed{p213}{p199} \Ed{p214}{p200} \Ed{p217}{p200} \Ed{p212}{p208} \Ed{p216}{p199} \Ed{p209}{p199} \Ed{p218}{p208}
\Ed{p221}{p213} \Ed{p222}{p214} \Ed{p223}{p212}
\Ed{p276}{p218} \Ed{p277}{p216} \Ed{p278}{p223} \Ed{p276}{p221}
\Ed{p212}{p210} \Ed{p212}{p211} \Ed{p212}{p209} \Ed{p212}{p201} \Ed{p212}{p202}
\Es{p215}{p216} \Es{p216}{p217} \Es{p214}{p213} \Es{p218}{p219} \Es{p217}{p218}
\Ed{p177}{PCE}
\foreach \t in {p256,p257,p258,p259,p260,p261,p262,p263,p264,p265,p212,p209,p201,p239,p240,p217,p300,p304,p185} {\Ed{PCE}{\t}}
\Ed{p265}{p266} \Es{p266}{p268} \Es{p268}{p267} \Ed{p266}{p271} \Es{p271}{p269} \Es{p271}{p270} \Es{p271}{p272} \Es{p271}{p273}
\Es{p230}{p224} \Es{p230}{p225} \Es{p230}{p229} \Es{p229}{p226} \Es{p229}{p228} \Es{p229}{p231} \Es{p229}{p232} \Es{p232}{p234} \Es{p230}{p227} \Es{p230}{p233}
\Ed{p230}{p242} \Ed{p229}{p241} \Ed{p232}{p244}
\Ed{p241}{p246} \Ed{p242}{p244} \Ed{p245}{p247} \Ed{p243}{p248} \Ed{p247}{p249} \Ed{p249}{p250} \Ed{p250}{p251} \Es{p251}{p252} \Es{p251}{p253} \Es{p254}{p253} \Es{p254}{p255} \Ed{p250}{p254} \Ed{p248}{p250}
\Ed{p241}{p242} \Ed{p242}{p243} \Ed{p245}{p243} \Ed{p241}{p245} \Ed{p244}{p245} \Ed{p250}{p228}
\Ed{p241}{p203} \Ed{p242}{p204} \Ed{p243}{p199} \Ed{p243}{p200} \Ed{p245}{p208} \Ed{p242}{p236} \Ed{p241}{p235} \Ed{p243}{p235}
\Es{p235}{p236} \Es{p236}{p237} \Es{p237}{p238} \Ed{p237}{p203} \Ed{p238}{p205} \Ed{p239}{p243} \Ed{p240}{p243}
\foreach \t in {p279,p281,p283,p284,p275,p274,p297,p302,p322,p278,p277,p217} {\Ed{p276}{\t}}
\foreach \t in {p280,p282,p292,p294,p295,p296,p298,p306,p312,p278} {\Ed{p277}{\t}}
\foreach \t in {p285,p286,p288,p294,p291,p299,p301,p303,p313,p327,p304} {\Ed{p278}{\t}}
\foreach \t in {p312,p316,p315,p314,p308,p311,p323,p325,p322} {\Ed{p318}{\t}}
\foreach \t in {p324,p311,p292,p294,p318} {\Ed{p319}{\t}}
\foreach \t in {p321,p320,p323,p326,p327,p339} {\Ed{p322}{\t}}
\Ed{p327}{p333} \Ed{p292}{p318} \Ed{p294}{p319}
\Es{p300}{p299} \Es{p300}{p301} \Es{p305}{p304} \Es{p302}{p305} \Es{p309}{p306} \Es{p310}{p308} \Es{p307}{p306} \Es{p292}{p293}
\Ed{p279}{p298} \Ed{p282}{p298} \Ed{p280}{p295} \Ed{p281}{p296} \Ed{p296}{p315} \Ed{p295}{p312}
\Es{p291}{p289} \Es{p291}{p290}
\Es{p331}{p328} \Es{p331}{p329} \Es{p331}{p330} \Es{p332}{p331} \Es{p333}{p335} \Es{p335}{p336} \Es{p334}{p335}
\Es{p339}{p338} \Es{p338}{p337} \Es{p339}{p340} \Es{p340}{p341}
\end{pgfonlayer}
% ================= LABELS =================
\node[lab] (tPCK) at (25,148) {Parish church Kattau};
\node[lab] (tOFK) at (252,78) {Orphans\textquotesingle{} fund Kattau};
\node[lab] (tB) at (675,305) {Brotherhood St. Francisci};
\node[lab] (tM) at (570,395) {Municipal archive Eggenburg};
\node[lab] (tH) at (997,421) {Hospital Eggenburg};
\node[lab] (tF) at (547,686) {Filial church Wartberg};
\node[lab] (tPCE) at (594,812) {Parish church Eggenburg};
% legend
\node[leg] (g1) at (882,1131) {Round: Institution};
\node[leg] (g2) at (882,1171) {Triangle: Orphan};
\node[leg] (g3) at (882,1211) {Square: Private};
\node[leg] (g4) at (1176,1131) {Purple: Eggenburg};
\node[leg] (g5) at (1176,1171) {Orange: Kattau};
\node[leg] (g6) at (1176,1211) {Size: Out-degree};
\end{tikzpicture}
\end{document}
